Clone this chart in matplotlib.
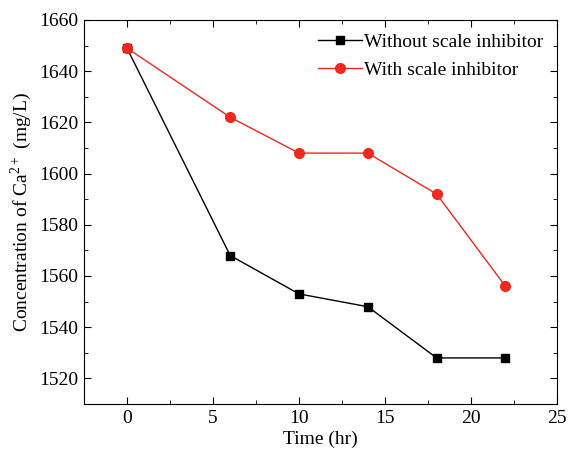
import matplotlib.pyplot as plt
from matplotlib.ticker import MultipleLocator

plt.rcParams['font.family'] = ['Liberation Serif', 'DejaVu Serif']
plt.rcParams['mathtext.fontset'] = 'custom'
plt.rcParams['mathtext.rm'] = 'Liberation Serif'

# time points and Ca2+ concentration
time_hr = [0, 6, 10, 14, 18, 22]
without_inhibitor = [1649, 1568, 1553, 1548, 1528, 1528]
with_inhibitor = [1649, 1622, 1608, 1608, 1592, 1556]

fig = plt.figure(figsize=(5.69, 4.5), dpi=100)
ax = fig.add_axes([0.1476, 0.1022, 0.8314, 0.8534])

ax.plot(time_hr, without_inhibitor, color='black', marker='s', markersize=6,
        linewidth=1, label='Without scale inhibitor')
ax.plot(time_hr, with_inhibitor, color='#f0281e', marker='o', markersize=7,
        linewidth=1, label='With scale inhibitor')

ax.set_xlim(-2.5, 25)
ax.set_ylim(1510, 1660)
ax.xaxis.set_major_locator(MultipleLocator(5))
ax.xaxis.set_minor_locator(MultipleLocator(2.5))
ax.yaxis.set_major_locator(MultipleLocator(20))
ax.yaxis.set_minor_locator(MultipleLocator(10))
ax.tick_params(which='both', direction='in', top=True, right=True, labelsize=14)
ax.tick_params(which='major', length=5, pad=4)
ax.tick_params(which='minor', length=3)

ax.set_xlabel('Time (hr)', fontsize=14, labelpad=3)
ax.set_ylabel(r'Concentration of Ca$^{\mathrm{2+}}$ (mg/L)', fontsize=14, labelpad=4)

ax.legend(loc='upper right', frameon=False, fontsize=14, handlelength=2.3,
          handletextpad=0.1, borderaxespad=0.3, labelspacing=0.5)

fig.savefig('out.png', dpi=100)
